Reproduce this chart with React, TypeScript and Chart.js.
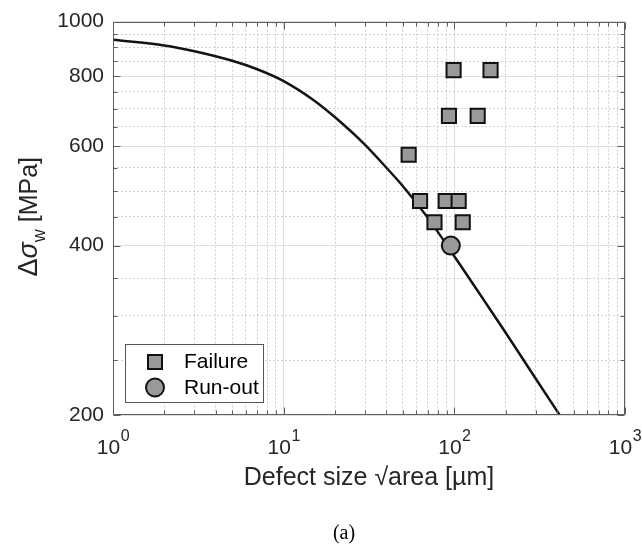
import React, { useEffect, useRef } from 'react';
import { Chart, registerables } from 'chart.js';

Chart.register(...registerables);

// Model curve
const curveX = [1, 2, 3, 5, 7, 10, 15, 20, 30, 40, 50, 70, 100, 150, 200, 300, 414];
const curveY = [928, 907, 886, 852, 823, 784, 725, 676, 604, 550, 510, 448, 383, 319, 280, 232, 200];

// Experimental points
const failureX = [99, 163, 93, 137, 54, 63, 89, 106, 76.5, 112];
const failureY = [820, 820, 680, 680, 580, 480, 480, 480, 440, 440];
const runoutX = [95.4];
const runoutY = [400];

const seriesNames = ['Failure', 'Run-out'];

// Axes / grid
const xGrid = [1, 2, 3, 4, 5, 6, 7, 8, 9, 10, 20, 30, 40, 50, 60, 70, 80, 90, 100, 200, 300, 400, 500, 600, 700, 800, 900, 1000];
const xMajor = [1, 10, 100, 1000];
const xExponents = ['0', '1', '2', '3'];
const yGrid = [200, 250, 300, 350, 400, 450, 500, 550, 600, 650, 700, 750, 800, 850, 900, 950, 1000];
const yMajor = [200, 400, 600, 800, 1000];

const xTitle = 'Defect size √area [µm]';
const caption = '(a)';

const SANS = '"Liberation Sans", Arial, Helvetica, sans-serif';
const TEXT = '#262626';
const AXIS = '#5e5e5e';
const MARK_FILL = '#999999';
const MARK_EDGE = '#111111';

const decorPlugin = {
  id: 'decor',
  afterDraw(chart: any) {
    const { ctx, chartArea: a, scales } = chart;
    const x = scales.x;
    const y = scales.y;
    ctx.save();

    // box
    const L = Math.round(a.left) + 0.5;
    const R = Math.round(a.right) - 0.5;
    const T = Math.round(a.top) + 0.5;
    const B = Math.round(a.bottom) - 0.5;
    ctx.strokeStyle = AXIS;
    ctx.lineWidth = 1;
    ctx.beginPath();
    ctx.rect(L, T, R - L, B - T);
    ctx.stroke();

    // inward ticks
    ctx.beginPath();
    for (const v of xGrid) {
      const px = Math.round(x.getPixelForValue(v)) + 0.5;
      const len = xMajor.includes(v) ? 7 : 4;
      ctx.moveTo(px, B);
      ctx.lineTo(px, B - len);
      ctx.moveTo(px, T);
      ctx.lineTo(px, T + len);
    }
    for (const v of yGrid) {
      const py = Math.round(y.getPixelForValue(v)) + 0.5;
      const len = yMajor.includes(v) ? 7 : 4;
      ctx.moveTo(L, py);
      ctx.lineTo(L + len, py);
      ctx.moveTo(R, py);
      ctx.lineTo(R - len, py);
    }
    ctx.stroke();

    // x tick labels 10^n
    ctx.fillStyle = TEXT;
    ctx.textBaseline = 'alphabetic';
    ctx.textAlign = 'left';
    xMajor.forEach((v, i) => {
      const px = x.getPixelForValue(v);
      ctx.font = `21px ${SANS}`;
      const w1 = ctx.measureText('10').width;
      ctx.font = `16px ${SANS}`;
      const w2 = ctx.measureText(xExponents[i]).width;
      const start = px - (w1 + w2) / 2;
      ctx.font = `21px ${SANS}`;
      ctx.fillText('10', start, 454);
      ctx.font = `16px ${SANS}`;
      ctx.fillText(xExponents[i], start + w1 + 0.5, 441);
    });

    // x title
    ctx.font = `25px ${SANS}`;
    ctx.textAlign = 'center';
    ctx.fillText(xTitle, (a.left + a.right) / 2, 485);

    // caption
    ctx.fillStyle = '#000';
    ctx.font = `20px "Liberation Serif", "Times New Roman", serif`;
    ctx.fillText(caption, 344, 539);

    // y title (rotated)
    ctx.save();
    ctx.fillStyle = TEXT;
    ctx.translate(37, 222);
    ctx.rotate(-Math.PI / 2);
    ctx.textAlign = 'left';
    const fBig = `27px ${SANS}`;
    const fSig = `italic 27px ${SANS}`;
    const fSub = `18px ${SANS}`;
    const fLab = `25px ${SANS}`;
    ctx.font = fBig;
    const wD = ctx.measureText('Δ').width;
    ctx.font = fSig;
    const wS = ctx.measureText('σ').width;
    ctx.font = fSub;
    const wW = ctx.measureText('w').width;
    ctx.font = fLab;
    const wM = ctx.measureText('[MPa]').width;
    const gap = 7;
    let cx = 65 - (wD + wS + wW + gap + wM);
    ctx.font = fBig;
    ctx.fillText('Δ', cx, 0);
    cx += wD;
    ctx.font = fSig;
    ctx.fillText('σ', cx, 0);
    cx += wS;
    ctx.font = fSub;
    ctx.fillText('w', cx, 8);
    cx += wW + gap;
    ctx.font = fLab;
    ctx.fillText('[MPa]', cx, 0);
    ctx.restore();

    // legend
    const lx = 125.5, ly = 344.5, lw = 138, lh = 58;
    ctx.fillStyle = '#ffffff';
    ctx.fillRect(lx, ly, lw, lh);
    ctx.strokeStyle = '#555555';
    ctx.lineWidth = 1;
    ctx.strokeRect(lx, ly, lw, lh);

    ctx.fillStyle = MARK_FILL;
    ctx.strokeStyle = MARK_EDGE;
    ctx.lineWidth = 2;
    ctx.beginPath();
    ctx.rect(155 - 7, 362 - 7, 14, 14);
    ctx.fill();
    ctx.stroke();
    ctx.beginPath();
    ctx.arc(155, 387.5, 9, 0, Math.PI * 2);
    ctx.fill();
    ctx.stroke();

    ctx.fillStyle = '#000';
    ctx.font = `21px ${SANS}`;
    ctx.textAlign = 'left';
    ctx.textBaseline = 'middle';
    ctx.fillText(seriesNames[0], 184, 362);
    ctx.fillText(seriesNames[1], 184, 388);

    ctx.restore();
  },
};

export default function App() {
  const ref = useRef<HTMLCanvasElement | null>(null);

  useEffect(() => {
    const canvas = ref.current;
    if (!canvas) return;

    const isMajor = (c: any) => {
      const v = c.tick ? c.tick.value : null;
      return c.scale.axis === 'x' ? xMajor.includes(v) : yMajor.includes(v);
    };
    const gridColor = (c: any) => (isMajor(c) ? '#dedede' : '#cfcfcf');
    const gridDash = (c: any) => (isMajor(c) ? [] : [2, 2]);

    const chart = new Chart(canvas, {
      type: 'scatter',
      data: {
        datasets: [
          {
            type: 'line',
            label: 'model',
            data: curveX.map((v, i) => ({ x: v, y: curveY[i] })),
            borderColor: '#141414',
            borderWidth: 2.5,
            pointRadius: 0,
            cubicInterpolationMode: 'monotone',
            fill: false,
            order: 3,
          } as any,
          {
            label: seriesNames[0],
            data: failureX.map((v, i) => ({ x: v, y: failureY[i] })),
            pointStyle: 'rect',
            pointRadius: 10,
            backgroundColor: MARK_FILL,
            borderColor: MARK_EDGE,
            borderWidth: 2,
            order: 1,
          },
          {
            label: seriesNames[1],
            data: runoutX.map((v, i) => ({ x: v, y: runoutY[i] })),
            pointStyle: 'circle',
            pointRadius: 9,
            backgroundColor: MARK_FILL,
            borderColor: MARK_EDGE,
            borderWidth: 2,
            order: 2,
          },
        ],
      },
      options: {
        animation: false,
        responsive: false,
        maintainAspectRatio: false,
        layout: { padding: { left: 0, right: 17, top: 18, bottom: 0 } },
        plugins: { legend: { display: false }, tooltip: { enabled: false } },
        scales: {
          x: {
            type: 'logarithmic',
            min: 1,
            max: 1000,
            afterBuildTicks: (s: any) => {
              s.ticks = xGrid.map((v) => ({ value: v }));
            },
            afterFit: (s: any) => {
              s.height = 133;
            },
            ticks: { display: false, autoSkip: false },
            grid: { color: gridColor, lineWidth: 1, drawTicks: false },
            border: { display: false, dash: gridDash },
          },
          y: {
            type: 'logarithmic',
            min: 200,
            max: 1000,
            afterBuildTicks: (s: any) => {
              s.ticks = yGrid.map((v) => ({ value: v }));
            },
            afterFit: (s: any) => {
              s.width = 113;
            },
            ticks: {
              autoSkip: false,
              padding: 9,
              color: TEXT,
              font: { family: SANS, size: 21 },
              callback: (v: any) => (yMajor.includes(Number(v)) ? String(v) : ''),
            },
            grid: { color: gridColor, lineWidth: 1, drawTicks: false },
            border: { display: false, dash: gridDash },
          },
        },
      } as any,
      plugins: [decorPlugin],
    });

    return () => chart.destroy();
  }, []);

  return (
    <div style={{ position: 'absolute', left: 0, top: 0, width: 642, height: 548, background: '#fff' }}>
      <canvas ref={ref} width={642} height={548} style={{ display: 'block', width: 642, height: 548 }} />
    </div>
  );
}
